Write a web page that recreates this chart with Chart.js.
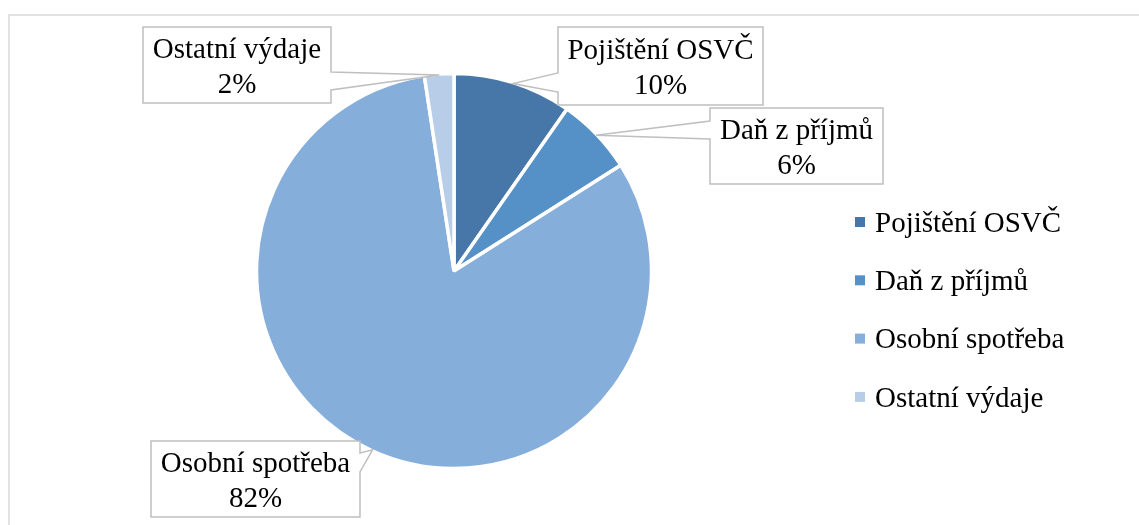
<!DOCTYPE html>
<html><head><meta charset="utf-8">
<script src="https://cdn.jsdelivr.net/npm/chart.js@4"></script>
<style>html,body{margin:0;padding:0;background:#fff}#wrap{width:1139px;height:525px;position:relative}</style>
</head><body><div id="wrap"><canvas id="c" width="1139" height="525"></canvas></div>
<script>
const categories = ['Pojištění OSVČ', 'Daň z příjmů', 'Osobní spotřeba', 'Ostatní výdaje'];
const shares = [9.7, 6.3, 81.6, 2.4];
const sliceColors = ['#4677A8', '#5590C7', '#85AEDB', '#B8CDE8'];

const FONT = '"Liberation Serif", "Times New Roman", serif';
const FONT_SIZE = 29;

// label-box placement (layout, not data)
const calloutLayout = [
  {x: 558, y: 27, w: 205, h: 78, side: 'left', b: [73, 92]},
  {x: 710, y: 108, w: 173, h: 76, side: 'left', b: [121, 139]},
  {x: 151, y: 441, w: 209, h: 76, side: 'right', b: [453, 472]},
  {x: 143, y: 27, w: 188, h: 76, side: 'right', b: [72, 90]}
];
const legendLayout = {x: 855, y: 222, step: 58.3, box: 10, gap: 10, textDy: 2};

const frameAndLabels = {
  id: 'frameAndLabels',
  beforeDraw(chart) {
    const ctx = chart.ctx;
    ctx.save();
    ctx.fillStyle = '#fff';
    ctx.fillRect(0, 0, chart.width, chart.height);
    ctx.strokeStyle = '#D9D9D9';
    ctx.lineWidth = 1.5;
    ctx.strokeRect(9, 15, chart.width + 50, chart.height + 50);
    ctx.restore();
  },
  afterDatasetsDraw(chart) {
    const ctx = chart.ctx;
    const meta = chart.getDatasetMeta(0);
    const data = chart.data.datasets[0].data;
    const total = data.reduce((a, b) => a + b, 0);
    ctx.save();
    meta.data.forEach((arc, i) => {
      const L = calloutLayout[i];
      const p = arc.getProps(['x', 'y', 'startAngle', 'endAngle', 'outerRadius'], true);
      const mid = (p.startAngle + p.endAngle) / 2;
      const r = p.outerRadius - 1;
      const tx = p.x + Math.cos(mid) * r, ty = p.y + Math.sin(mid) * r;
      ctx.beginPath();
      if (L.side === 'left') {
        ctx.moveTo(L.x, L.y);
        ctx.lineTo(L.x + L.w, L.y);
        ctx.lineTo(L.x + L.w, L.y + L.h);
        ctx.lineTo(L.x, L.y + L.h);
        ctx.lineTo(L.x, L.b[1]);
        ctx.lineTo(tx, ty);
        ctx.lineTo(L.x, L.b[0]);
      } else {
        ctx.moveTo(L.x, L.y);
        ctx.lineTo(L.x + L.w, L.y);
        ctx.lineTo(L.x + L.w, L.b[0]);
        ctx.lineTo(tx, ty);
        ctx.lineTo(L.x + L.w, L.b[1]);
        ctx.lineTo(L.x + L.w, L.y + L.h);
        ctx.lineTo(L.x, L.y + L.h);
      }
      ctx.closePath();
      ctx.fillStyle = '#fff';
      ctx.fill();
      ctx.strokeStyle = '#BFBFBF';
      ctx.lineWidth = 1.5;
      ctx.stroke();
      ctx.fillStyle = '#000';
      ctx.font = FONT_SIZE + 'px ' + FONT;
      ctx.textAlign = 'center';
      ctx.textBaseline = 'middle';
      const cx = L.x + L.w / 2, cy = L.y + L.h / 2 + 2;
      ctx.fillText(chart.data.labels[i], cx, cy - 17);
      ctx.fillText(Math.round(data[i] / total * 100) + '%', cx, cy + 18);
    });
    // legend
    const bg = chart.data.datasets[0].backgroundColor;
    ctx.textAlign = 'left';
    ctx.textBaseline = 'middle';
    chart.data.labels.forEach((lab, i) => {
      const cy = legendLayout.y + i * legendLayout.step;
      ctx.fillStyle = bg[i];
      ctx.fillRect(legendLayout.x, cy - legendLayout.box / 2, legendLayout.box, legendLayout.box);
      ctx.fillStyle = '#000';
      ctx.fillText(lab, legendLayout.x + legendLayout.box + legendLayout.gap, cy + legendLayout.textDy);
    });
    ctx.restore();
  }
};

new Chart(document.getElementById('c'), {
  type: 'pie',
  data: {
    labels: categories,
    datasets: [{
      data: shares,
      backgroundColor: sliceColors,
      borderColor: '#FFFFFF',
      borderWidth: 3.5,
      radius: 197.5
    }]
  },
  options: {
    responsive: false,
    animation: false,
    events: [],
    layout: {padding: {left: 0, right: 231, top: 17, bottom: 0}},
    plugins: {legend: {display: false}, tooltip: {enabled: false}}
  },
  plugins: [frameAndLabels]
});
</script>
</body></html>
